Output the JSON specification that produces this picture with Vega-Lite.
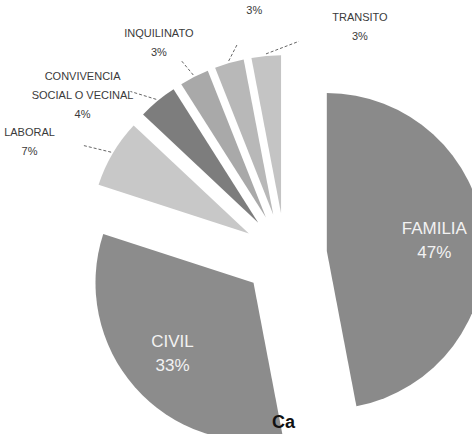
{
  "$schema": "https://vega.github.io/schema/vega-lite/v6.json",
  "width": 472,
  "height": 434,
  "autosize": {"type": "none"},
  "padding": 0,
  "background": "white",
  "config": {"view": {"stroke": null}},
  "params": [
    {"name": "cx", "value": 285},
    {"name": "cy", "value": 255},
    {"name": "ex", "value": 42},
    {"name": "R", "value": 158},
    {"name": "LA", "value": 295},
    {"name": "LB", "value": 245}
  ],
  "title": {
    "text": "Ca",
    "orient": "bottom",
    "anchor": "start",
    "frame": "group",
    "dx": 272,
    "dy": -27,
    "offset": 0,
    "baseline": "top",
    "font": "Liberation Sans",
    "fontSize": 18,
    "fontWeight": "bold",
    "color": "#111"
  },
  "data": {
    "values": [
      {"orden": 1, "categoria": "FAMILIA", "value": 47},
      {"orden": 2, "categoria": "CIVIL", "value": 33},
      {"orden": 3, "categoria": "LABORAL", "value": 7},
      {"orden": 4, "categoria": "CONVIVENCIA SOCIAL O VECINAL", "value": 4},
      {"orden": 5, "categoria": "INQUILINATO", "value": 3},
      {"orden": 6, "categoria": "", "value": 3},
      {"orden": 7, "categoria": "TRANSITO", "value": 3}
    ]
  },
  "transform": [
    {"stack": "value", "groupby": [], "sort": [{"field": "orden", "order": "ascending"}], "as": ["v0", "v1"]}
  ],
  "layer": [
    {
      "mark": {
        "type": "arc",
        "outerRadius": 158,
        "x": {"expr": "cx + ex*sin(PI*(datum.v0+datum.v1)/100)"},
        "y": {"expr": "cy - ex*cos(PI*(datum.v0+datum.v1)/100)"}
      },
      "encoding": {
        "theta": {"field": "v0", "type": "quantitative", "stack": null, "scale": {"domain": [0, 100]}},
        "theta2": {"field": "v1"},
        "color": {
          "field": "categoria",
          "type": "nominal",
          "legend": null,
          "scale": {
            "domain": ["FAMILIA", "CIVIL", "LABORAL", "CONVIVENCIA SOCIAL O VECINAL", "INQUILINATO", "", "TRANSITO"],
            "range": ["#8a8a8a", "#8c8c8c", "#c8c8c8", "#7d7d7d", "#a9a9a9", "#b8b8b8", "#c4c4c4"]
          }
        }
      }
    },
    {
      "transform": [{"filter": "datum.value > 20"}],
      "mark": {
        "type": "text",
        "font": "Liberation Sans",
        "fontSize": 17,
        "color": "#f2f2f2",
        "align": "center",
        "baseline": "middle",
        "lineHeight": 24,
        "dy": -12,
        "x": {"expr": "cx + (ex + 108)*sin(PI*(datum.v0+datum.v1)/100)"},
        "y": {"expr": "cy - (ex + 108)*cos(PI*(datum.v0+datum.v1)/100)"},
        "text": {"expr": "[datum.categoria, datum.value + '%']"}
      },
      "encoding": {}
    },
    {
      "transform": [{"filter": "datum.value < 20"}],
      "mark": {"type": "rule", "color": "#666", "strokeWidth": 1, "strokeDash": [3, 2]},
      "encoding": {
        "x": {"value": {"expr": "cx + (ex + R + 2)*sin(PI*(datum.v0+datum.v1)/100)"}},
        "y": {"value": {"expr": "cy - (ex + R + 2)*cos(PI*(datum.v0+datum.v1)/100)"}},
        "x2": {"value": {"expr": "0.65*(cx + (ex + R + 2)*sin(PI*(datum.v0+datum.v1)/100)) + 0.35*(cx + LA*sin((300 + 16*(datum.orden-3) + 0.67*(datum.orden-3)*(datum.orden-3))*PI/180))"}},
        "y2": {"value": {"expr": "0.65*(cy - (ex + R + 2)*cos(PI*(datum.v0+datum.v1)/100)) + 0.35*(cy - LB*cos((300 + 16*(datum.orden-3) + 0.67*(datum.orden-3)*(datum.orden-3))*PI/180))"}}
      }
    },
    {
      "transform": [{"filter": "datum.value < 20"}],
      "mark": {
        "type": "text",
        "font": "Liberation Sans",
        "fontSize": 11,
        "color": "#3a3a3a",
        "align": "center",
        "baseline": "middle",
        "lineHeight": 19,
        "lineBreak": "\n",
        "x": {"expr": "cx + LA*sin((300 + 16*(datum.orden-3) + 0.67*(datum.orden-3)*(datum.orden-3))*PI/180)"},
        "y": {"expr": "cy - LB*cos((300 + 16*(datum.orden-3) + 0.67*(datum.orden-3)*(datum.orden-3))*PI/180)"},
        "text": {"expr": "(datum.categoria == '' ? '' : replace(datum.categoria, 'CONVIVENCIA ', 'CONVIVENCIA\\n') + '\\n') + datum.value + '%'"}
      },
      "encoding": {}
    }
  ]
}
